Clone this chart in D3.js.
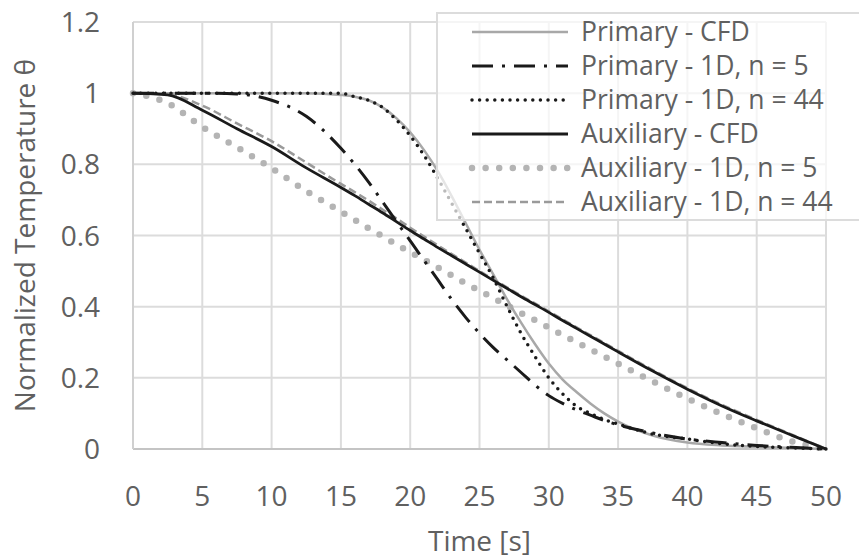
<!DOCTYPE html>
<html>
<head>
<meta charset="utf-8">
<script src="https://cdn.jsdelivr.net/npm/d3@7"></script>
<style>
  body { margin: 0; background: #fff; }
  text { font-family: "Open Sans", sans-serif; fill: #606060; }
</style>
</head>
<body>
<div id="chart"></div>
<script>
// time [s] shared by all series
var time = [0, 2.5, 5, 7.5, 10, 12.5, 15, 16, 17, 18, 19, 20, 21, 22, 23, 24, 25, 26, 27, 28, 29, 30, 31, 32, 33, 34, 35, 37.5, 40, 42.5, 45, 47.5, 50];

var primaryCFD = [1, 1, 1, 1, 1, 1, 0.995, 0.99, 0.98, 0.96, 0.93, 0.89, 0.84, 0.78, 0.71, 0.635, 0.56, 0.49, 0.42, 0.355, 0.295, 0.24, 0.195, 0.16, 0.128, 0.1, 0.077, 0.038, 0.018, 0.01, 0.006, 0.003, 0];
var primary1D5 = [1, 1, 1, 0.998, 0.98, 0.935, 0.845, 0.8, 0.75, 0.695, 0.64, 0.585, 0.53, 0.475, 0.42, 0.37, 0.325, 0.285, 0.25, 0.215, 0.18, 0.15, 0.128, 0.11, 0.095, 0.08, 0.068, 0.045, 0.028, 0.018, 0.01, 0.005, 0];
var primary1D44 = [1, 1, 1, 1, 1, 1, 1, 0.99, 0.98, 0.96, 0.925, 0.88, 0.825, 0.76, 0.69, 0.62, 0.55, 0.48, 0.40, 0.325, 0.26, 0.2, 0.155, 0.12, 0.1, 0.083, 0.07, 0.042, 0.028, 0.015, 0.007, 0.003, 0];
var auxCFD = [1, 0.995, 0.952, 0.9, 0.85, 0.79, 0.735, 0.712, 0.688, 0.664, 0.639, 0.614, 0.59, 0.566, 0.543, 0.52, 0.497, 0.474, 0.451, 0.428, 0.406, 0.384, 0.361, 0.339, 0.317, 0.295, 0.273, 0.219, 0.168, 0.121, 0.079, 0.039, 0];
var aux1D5 = [1, 0.972, 0.905, 0.848, 0.789, 0.725, 0.667, 0.644, 0.62, 0.598, 0.575, 0.553, 0.532, 0.51, 0.488, 0.465, 0.445, 0.424, 0.403, 0.382, 0.362, 0.341, 0.32, 0.3, 0.28, 0.26, 0.24, 0.19, 0.142, 0.098, 0.058, 0.022, 0];
var aux1D44 = [1, 0.997, 0.965, 0.915, 0.865, 0.805, 0.745, 0.722, 0.698, 0.673, 0.648, 0.622, 0.597, 0.572, 0.548, 0.524, 0.5, 0.477, 0.454, 0.431, 0.409, 0.387, 0.364, 0.342, 0.32, 0.298, 0.276, 0.222, 0.171, 0.124, 0.082, 0.041, 0];

var xTicks = [0, 5, 10, 15, 20, 25, 30, 35, 40, 45, 50];
var yTicks = [0, 0.2, 0.4, 0.6, 0.8, 1, 1.2];

var width = 859, height = 559;
var margin = {top: 22, right: 33, bottom: 110, left: 133};

var svg = d3.select("#chart").append("svg")
    .attr("width", width)
    .attr("height", height);

var x = d3.scaleLinear().domain([0, 50]).range([margin.left, width - margin.right]);
var y = d3.scaleLinear().domain([0, 1.2]).range([height - margin.bottom, margin.top]);

// gridlines
svg.append("g").selectAll("line")
    .data(xTicks.slice(1))
    .enter().append("line")
    .attr("x1", d => x(d)).attr("x2", d => x(d))
    .attr("y1", y(0)).attr("y2", y(1.2))
    .attr("stroke", "#dcdcdc").attr("stroke-width", 2);
svg.append("g").selectAll("line")
    .data(yTicks.slice(1))
    .enter().append("line")
    .attr("x1", x(0)).attr("x2", x(50))
    .attr("y1", d => y(d)).attr("y2", d => y(d))
    .attr("stroke", "#dcdcdc").attr("stroke-width", 2);

// axis lines
svg.append("line")
    .attr("x1", x(0)).attr("x2", x(50)).attr("y1", y(0)).attr("y2", y(0))
    .attr("stroke", "#c4c4c4").attr("stroke-width", 2);
svg.append("line")
    .attr("x1", x(0)).attr("x2", x(0)).attr("y1", y(0)).attr("y2", y(1.2))
    .attr("stroke", "#d0d0d0").attr("stroke-width", 2);

// tick labels
svg.append("g").selectAll("text")
    .data(xTicks)
    .enter().append("text")
    .attr("x", d => x(d)).attr("y", 506)
    .attr("text-anchor", "middle")
    .style("font-size", "28px")
    .text(d => d);
svg.append("g").selectAll("text")
    .data(yTicks)
    .enter().append("text")
    .attr("x", 100).attr("y", d => y(d) + 10)
    .attr("text-anchor", "end")
    .style("font-size", "28px")
    .text(d => d);

// axis titles
svg.append("text")
    .attr("x", x(25)).attr("y", 551)
    .attr("text-anchor", "middle")
    .style("font-size", "28px")
    .text("Time [s]");
svg.append("text")
    .attr("transform", "translate(35," + y(0.6) + ") rotate(-90)")
    .attr("text-anchor", "middle")
    .style("font-size", "28px")
    .text("Normalized Temperature θ");

var series = [
    {name: "Primary - CFD", values: primaryCFD, color: "#a8a8a8", width: 2.5, dash: null, cap: "butt"},
    {name: "Primary - 1D, n = 5", values: primary1D5, color: "#1a1a1a", width: 3, dash: "21 9 3 9", cap: "butt"},
    {name: "Primary - 1D, n = 44", values: primary1D44, color: "#1a1a1a", width: 3.5, dash: "0 7.6", cap: "round"},
    {name: "Auxiliary - CFD", values: auxCFD, color: "#1a1a1a", width: 2.8, dash: null, cap: "butt"},
    {name: "Auxiliary - 1D, n = 5", values: aux1D5, color: "#b4b4b4", width: 6.5, dash: "0 13.6", cap: "round"},
    {name: "Auxiliary - 1D, n = 44", values: aux1D44, color: "#9a9a9a", width: 2.5, dash: "8 4", cap: "butt"}
];

var line = d3.line()
    .x(d => x(d[0]))
    .y(d => y(d[1]))
    .curve(d3.curveMonotoneX);

// draw order: light ones under dark ones
var drawOrder = [4, 0, 5, 3, 1, 2];
drawOrder.forEach(function (i) {
    var s = series[i];
    svg.append("path")
        .datum(time.map((t, k) => [t, s.values[k]]))
        .attr("d", line)
        .attr("fill", "none")
        .attr("stroke", s.color)
        .attr("stroke-width", s.width)
        .attr("stroke-dasharray", s.dash)
        .attr("stroke-linecap", s.cap);
});

// legend
var legend = svg.append("g");
legend.append("rect")
    .attr("x", 437).attr("y", 13)
    .attr("width", 440).attr("height", 207)
    .attr("fill", "#fff").attr("fill-opacity", 0.7)
    .attr("stroke", "#dcdcdc").attr("stroke-width", 2);
series.forEach(function (s, i) {
    var ly = 32 + i * 34;
    legend.append("line")
        .attr("x1", 472).attr("x2", 568)
        .attr("y1", ly).attr("y2", ly)
        .attr("stroke", s.color)
        .attr("stroke-width", s.width)
        .attr("stroke-dasharray", s.dash)
        .attr("stroke-linecap", s.cap);
    legend.append("text")
        .attr("x", 581).attr("y", ly + 9)
        .style("font-size", "26.5px")
        .text(s.name);
});
</script>
</body>
</html>
